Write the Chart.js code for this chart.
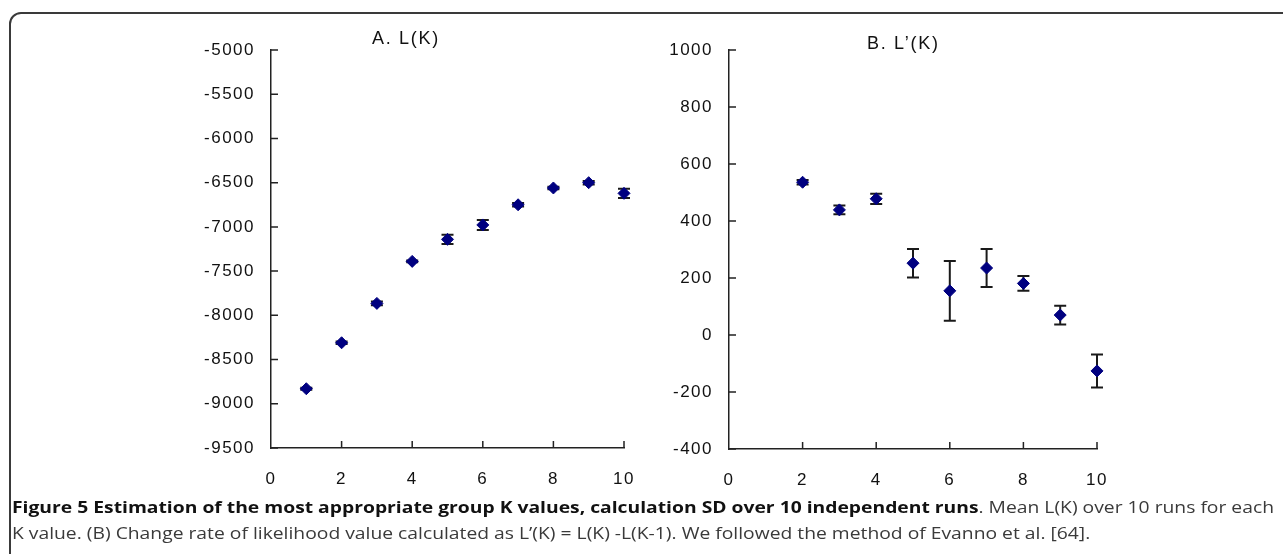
<!DOCTYPE html>
<html>
<head>
<meta charset="utf-8">
<script src="https://cdn.jsdelivr.net/npm/chart.js@4/dist/chart.umd.min.js"></script>
<style>
  body { margin: 0; background: #fff; }
  #page { position: relative; width: 1283px; height: 554px; overflow: hidden; }
  #frame { position: absolute; left: 9px; top: 12px; width: 1300px; height: 620px;
           border: 2px solid #3a3a3a; border-radius: 12px; }
  canvas { position: absolute; top: 0; }
  .ttl { position: absolute; font-family: 'Liberation Sans', Arial, sans-serif; font-size: 18px;
         letter-spacing: 1.7px; color: #111; white-space: nowrap; }
  #cap { position: absolute; left: 12px; top: 494px; font-family: 'Open Sans', sans-serif;
         font-size: 16px; line-height: 26px; color: #3a3a3a; white-space: nowrap; transform-origin: left top; }
  #cap b { color: #111; }
</style>
</head>
<body>
<div id="page">
  <div id="frame"></div>
  <canvas id="chartA" width="640" height="500" style="left:0"></canvas>
  <canvas id="chartB" width="643" height="500" style="left:640px"></canvas>
  <div class="ttl" style="left:372px; top:28px">A. L(K)</div>
  <div class="ttl" style="left:867px; top:33px">B. L’(K)</div>
  <div id="cap">
    <div><span id="line1"><b>Figure 5 Estimation of the most appropriate group K values, calculation SD over 10 independent runs</b>. Mean L(K) over 10 runs for each</span></div>
    <div>K value. (B) Change rate of likelihood value calculated as L’(K) = L(K) -L(K-1). We followed the method of Evanno et al. [64].</div>
  </div>
</div>
<script>
// Panel A: mean L(K) and SD
const kA = [1, 2, 3, 4, 5, 6, 7, 8, 9, 10];
const meanA = [-8830, -8310, -7865, -7390, -7141, -6978, -6750, -6560, -6500, -6621];
const sdA = [10, 15, 20, 10, 53, 57, 20, 15, 20, 51];
const yTicksA = { min: -9500, max: -5000, step: 500 };

// Panel B: L'(K) and SD
const kB = [2, 3, 4, 5, 6, 7, 8, 9, 10];
const meanB = [536, 439, 478, 252, 155, 235, 181, 70, -126];
const sdB = [8, 15, 18, 50, 105, 67, 26, 33, 58];
const yTicksB = { min: -400, max: 1000, step: 200 };

const xTicks = { min: 0, max: 10, step: 2 };

// error bars drawn with the chart scales
const errorBars = {
    id: 'errorBars',
    beforeDatasetsDraw(chart) {
        const ctx = chart.ctx;
        const x = chart.scales.x, y = chart.scales.y;
        const ds = chart.data.datasets[0];
        ctx.save();
        ctx.strokeStyle = '#1a1a1a';
        ctx.lineWidth = 2;
        ds.data.forEach((p, i) => {
            const px = x.getPixelForValue(p.x);
            const top = y.getPixelForValue(p.y + ds.sd[i]);
            const bot = y.getPixelForValue(p.y - ds.sd[i]);
            ctx.beginPath();
            ctx.moveTo(px, top); ctx.lineTo(px, bot);
            ctx.moveTo(px - 6, top); ctx.lineTo(px + 6, top);
            ctx.moveTo(px - 6, bot); ctx.lineTo(px + 6, bot);
            ctx.stroke();
        });
        ctx.restore();
    }
};

// tick marks pointing inside the plot, like the original
const insideTicks = {
    id: 'insideTicks',
    beforeDraw(chart) {
        chart.ctx.letterSpacing = '1.5px';
    },
    afterDraw(chart) {
        const ctx = chart.ctx;
        const area = chart.chartArea;
        const x = chart.scales.x, y = chart.scales.y;
        ctx.save();
        ctx.strokeStyle = '#222';
        ctx.lineWidth = 1.5;
        ctx.beginPath();
        y.ticks.forEach(t => {
            const py = y.getPixelForValue(t.value);
            ctx.moveTo(area.left, py); ctx.lineTo(area.left + 7, py);
        });
        x.ticks.forEach(t => {
            if (t.value === 0) return;
            const px = x.getPixelForValue(t.value);
            ctx.moveTo(px, area.bottom); ctx.lineTo(px, area.bottom - 7);
        });
        ctx.stroke();
        ctx.restore();
    }
};

function makeChart(canvas, ks, means, sds, yr, box) {
    const tickFont = { family: "'Liberation Sans', Arial, sans-serif", size: 17 };
    return new Chart(canvas, {
        type: 'scatter',
        data: {
            datasets: [{
                data: ks.map((k, i) => ({ x: k, y: means[i] })),
                sd: sds,
                clip: false,
                pointStyle: 'rectRot',
                pointRadius: 6,
                backgroundColor: '#000080',
                borderColor: '#000080',
                borderWidth: 1
            }]
        },
        options: {
            responsive: false,
            animation: false,
            layout: { padding: { top: box.top, right: box.right, left: 0, bottom: 0 } },
            plugins: { legend: { display: false }, tooltip: { enabled: false } },
            scales: {
                x: {
                    type: 'linear', min: xTicks.min, max: xTicks.max,
                    grid: { display: false, drawTicks: false },
                    border: { display: true, color: '#222', width: 1.5 },
                    ticks: { stepSize: xTicks.step, font: tickFont, color: '#111', padding: 21, maxRotation: 0,
                             callback: v => String(v) },
                    afterFit(s) { s.height = box.xHeight; s.paddingLeft = 0; s.paddingRight = 0; }
                },
                y: {
                    min: yr.min, max: yr.max,
                    grid: { display: false, drawTicks: false },
                    border: { display: true, color: '#222', width: 1.5 },
                    ticks: { stepSize: yr.step, font: tickFont, color: '#111', padding: 16,
                             callback: v => String(v) },
                    afterFit(s) { s.width = box.yWidth; s.paddingTop = 0; s.paddingBottom = 0; }
                }
            }
        },
        plugins: [errorBars, insideTicks]
    });
}

makeChart(document.getElementById('chartA'), kA, meanA, sdA, yTicksA,
    { top: 50, right: 16, yWidth: 271, xHeight: 52 });
makeChart(document.getElementById('chartB'), kB, meanB, sdB, yTicksB,
    { top: 50, right: 186, yWidth: 89, xHeight: 51 });

// squeeze caption to the width of the original lines
const cap = document.getElementById('cap');
const w = document.getElementById('line1').getBoundingClientRect().width;
cap.style.transform = 'scaleX(' + (1262 / w) + ')';
</script>
</body>
</html>
